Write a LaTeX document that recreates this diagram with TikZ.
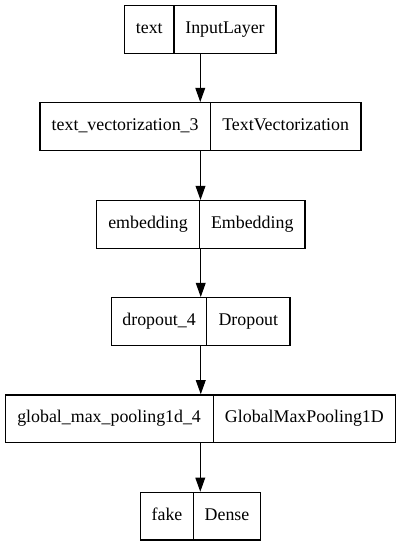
\documentclass[tikz,border=0pt]{standalone}
\usepackage{fontspec}
\setmainfont{Liberation Serif}
\usetikzlibrary{arrows.meta,fit}
\begin{document}
\begin{tikzpicture}[x=0.75pt,y=-0.75pt,
  field/.style={draw=black, line width=0.8pt, inner sep=0pt, minimum height=35.6pt,
    text height=9.2pt, text depth=3.3pt, font=\fontsize{13.4pt}{16pt}\selectfont},
  grp/.style={inner sep=0pt, draw=none},
  link/.style={-{Triangle[length=10.5pt,width=7.3pt]}, line width=0.8pt}]
\useasboundingbox (0,0) rectangle (401,547);
% box 1
\node[field, minimum width=37.1pt] (b1l) at (149.25,29.5) {text};
\node[field, minimum width=76.5pt] (b1r) at (225,29.5) {InputLayer};
\node[grp, fit=(b1l)(b1r)] (b1) {};
% box 2
\node[field, minimum width=127.7pt] (b2l) at (125.15,126.5) {text\_vectorization\_3};
\node[field, minimum width=113.0pt] (b2r) at (285.65,126.5) {TextVectorization};
\node[grp, fit=(b2l)(b2r)] (b2) {};
% box 3
\node[field, minimum width=77.25pt] (b3l) at (148,224.5) {embedding};
\node[field, minimum width=79.1pt] (b3r) at (252.25,224.5) {Embedding};
\node[grp, fit=(b3l)(b3r)] (b3) {};
% box 4
\node[field, minimum width=71.4pt] (b4l) at (159.1,321.5) {dropout\_4};
\node[field, minimum width=62.5pt] (b4r) at (248.35,321.5) {Dropout};
\node[grp, fit=(b4l)(b4r)] (b4) {};
% box 5
\node[field, minimum width=156.1pt] (b5l) at (109.1,418.75) {global\_max\_pooling1d\_4};
\node[field, minimum width=136.7pt] (b5r) at (304.4,418.75) {GlobalMaxPooling1D};
\node[grp, fit=(b5l)(b5r)] (b5) {};
% box 6
\node[field, minimum width=39.75pt] (b6l) at (167,516.25) {fake};
\node[field, minimum width=50.25pt] (b6r) at (227,516.25) {Dense};
\node[grp, fit=(b6l)(b6r)] (b6) {};
% connectors
\draw[link] (b1.south) -- (b1.south |- b2.north);
\draw[link] (b2.south) -- (b2.south |- b3.north);
\draw[link] (b3.south) -- (b3.south |- b4.north);
\draw[link] (b4.south) -- (b4.south |- b5.north);
\draw[link] (b5.south) -- (b5.south |- b6.north);
\end{tikzpicture}
\end{document}
